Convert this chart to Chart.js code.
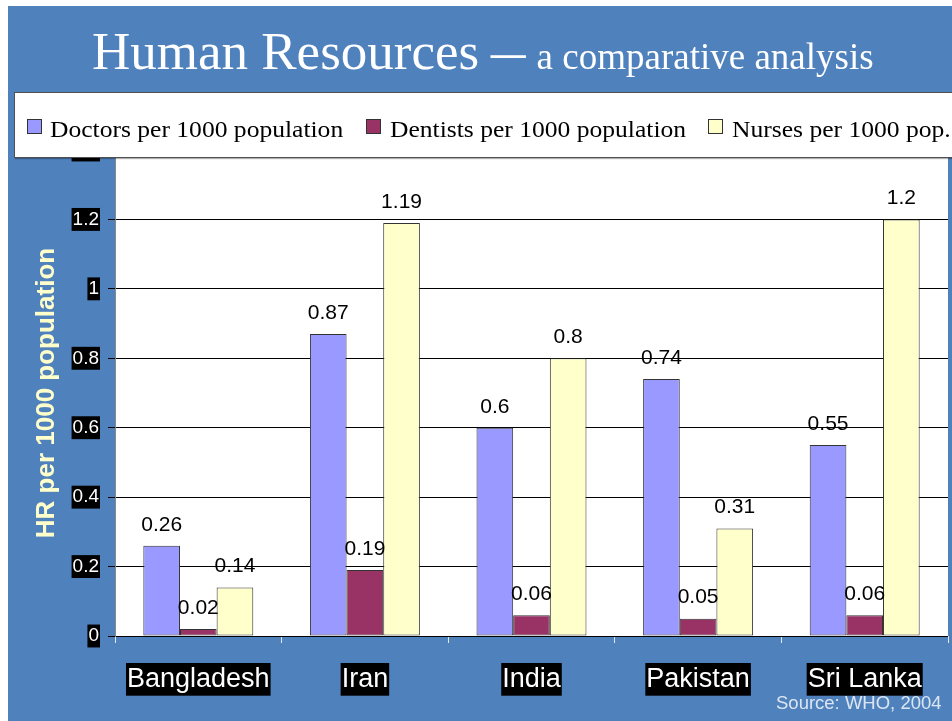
<!DOCTYPE html>
<html>
<head>
<meta charset="utf-8">
<script src="https://cdn.jsdelivr.net/npm/chart.js@4/dist/chart.umd.min.js"></script>
<style>
  html, body { margin:0; padding:0; background:#ffffff; width:952px; height:721px; overflow:hidden; }
  #bg { position:absolute; left:8px; top:6px; width:944px; height:715px; background:#4f81bd; z-index:0; }
  #c { position:absolute; left:0; top:0; z-index:1; }
  #title { position:absolute; left:92px; top:25px; font-family:"Liberation Serif","Times New Roman",serif; color:#ffffff; font-size:53px; line-height:53px; white-space:nowrap; z-index:2; }
  #title .dash { display:inline-block; margin-left:12px; transform:scaleX(1.3); transform-origin:left center; }
  #title .sub { font-size:37px; margin-left:19px; }
  #legend { position:absolute; left:14px; top:92px; width:950px; height:64px; background:#ffffff; border:1.5px solid #505050; z-index:2; box-shadow:1px 1px 1px rgba(0,0,0,0.3); }
  .mk { position:absolute; top:119px; width:13px; height:13px; border:1px solid #333; z-index:3; }
  .lt { position:absolute; top:117px; font-family:"Liberation Serif","Times New Roman",serif; font-size:24px; line-height:24px; color:#000; white-space:nowrap; z-index:3; transform:scaleX(1.065); transform-origin:left center; }
  #source { position:absolute; left:776px; top:694px; font-family:"Liberation Sans",Arial,sans-serif; font-size:18.5px; line-height:18px; color:#dce6f2; white-space:nowrap; z-index:2; }
</style>
</head>
<body>
<div id="bg"></div>
<canvas id="c" width="952" height="721"></canvas>
<div id="title">Human Resources<span class="dash">–</span><span class="sub">a comparative analysis</span></div>
<div id="legend"></div>
<div id="legendItems"></div>
<div id="source">Source: WHO, 2004</div>
<script>
const categories = ['Bangladesh', 'Iran', 'India', 'Pakistan', 'Sri Lanka'];
const doctors  = [0.26, 0.87, 0.6, 0.74, 0.55];
const dentists = [0.02, 0.19, 0.06, 0.05, 0.06];
const nurses   = [0.14, 1.19, 0.8, 0.31, 1.2];
const seriesNames = ['Doctors per 1000 population', 'Dentists per 1000 population', 'Nurses per 1000 pop.'];
const seriesColors = ['#9999ff', '#993366', '#ffffcc'];
const yTickLabels = ['0', '0.2', '0.4', '0.6', '0.8', '1', '1.2', '1.4'];
const yAxisTitle = 'HR per 1000 population';

// HTML legend
const legendLefts = [[27, 50], [366, 390], [708, 732]];
const li = document.getElementById('legendItems');
seriesNames.forEach((n, i) => {
  const m = document.createElement('div');
  m.className = 'mk'; m.style.left = legendLefts[i][0] + 'px'; m.style.background = seriesColors[i];
  li.appendChild(m);
  const t = document.createElement('div');
  t.className = 'lt'; t.style.left = legendLefts[i][1] + 'px'; t.textContent = n;
  li.appendChild(t);
});

const plotBg = {
  id: 'plotBg',
  beforeDraw(chart) {
    const {ctx, chartArea: a} = chart;
    ctx.save();
    ctx.fillStyle = '#ffffff';
    ctx.fillRect(a.left, a.top, a.right - a.left, a.bottom - a.top);
    ctx.restore();
  }
};

const valueLabels = {
  id: 'valueLabels',
  afterDatasetsDraw(chart) {
    const ctx = chart.ctx;
    ctx.save();
    ctx.font = '21px "Liberation Sans", Arial, sans-serif';
    ctx.fillStyle = '#000';
    ctx.textAlign = 'center';
    ctx.textBaseline = 'middle';
    chart.data.datasets.forEach((ds, di) => {
      const meta = chart.getDatasetMeta(di);
      meta.data.forEach((bar, i) => {
        ctx.fillText(String(ds.data[i]), bar.x, bar.y - 21);
      });
    });
    ctx.restore();
  }
};

const series = [doctors, dentists, nurses];
new Chart(document.getElementById('c'), {
  type: 'bar',
  data: {
    labels: categories,
    datasets: series.map((d, i) => ({
      label: seriesNames[i],
      data: d,
      backgroundColor: seriesColors[i],
      borderColor: '#333333',
      borderWidth: 1,
      borderSkipped: false,
      categoryPercentage: 0.66,
      barPercentage: 1.0
    }))
  },
  options: {
    responsive: false,
    devicePixelRatio: 1,
    animation: false,
    events: [],
    layout: { padding: { top: 150, right: 4, left: 0, bottom: 0 } },
    plugins: { legend: { display: false }, tooltip: { enabled: false } },
    scales: {
      x: {
        afterFit(s) { s.height = 85; },
        grid: { drawOnChartArea: false, color: '#e8e8e8', tickLength: 7, offset: true },
        border: { display: false },
        ticks: {
          color: '#ffffff',
          font: { family: '"Liberation Sans", Arial, sans-serif', size: 27, lineHeight: 1.1 },
          padding: 22,
          showLabelBackdrop: true,
          backdropColor: '#000000',
          backdropPadding: { top: 2, bottom: 1, left: 1, right: 1 },
          maxRotation: 0
        }
      },
      y: {
        min: 0, max: 1.4,
        afterFit(s) { s.width = 115; },
        grid: { color: '#000000', lineWidth: 1, tickLength: 7 },
        border: { color: '#888888', width: 1 },
        ticks: {
          stepSize: 0.2,
          color: '#ffffff',
          font: { family: '"Liberation Sans", Arial, sans-serif', size: 19, lineHeight: 1.1 },
          padding: 9,
          showLabelBackdrop: true,
          backdropColor: '#000000',
          backdropPadding: { top: 1, bottom: 1, left: 1, right: 1 },
          callback: (v, i) => yTickLabels[i]
        },
        title: {
          display: true,
          text: yAxisTitle,
          color: '#ffffcc',
          font: { family: '"Liberation Sans", Arial, sans-serif', size: 26, weight: 'bold' },
          padding: { top: 31, bottom: 0 }
        }
      }
    }
  },
  plugins: [plotBg, valueLabels]
});
</script>
</body>
</html>
